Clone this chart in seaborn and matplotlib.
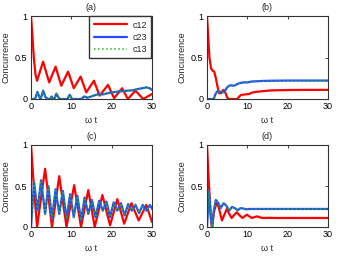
import matplotlib
matplotlib.use("Agg")
import matplotlib.pyplot as plt
import seaborn as sns

# ---------------- data ----------------
# Panel (a)
ta_12 = [0, 0.3, 0.7, 1.1, 1.5, 3.0, 4.5, 6.1, 7.5, 9.2, 10.6, 12.3, 13.7, 15.6, 17.0,
         19.1, 20.6, 22.6, 24.0, 25.9, 27.8, 30.0]
ca_12 = [1.0, 0.8, 0.5, 0.3, 0.22, 0.45, 0.2, 0.39, 0.16, 0.33, 0.13, 0.27, 0.08, 0.22, 0.04,
         0.17, 0.01, 0.13, 0.0, 0.1, 0.0, 0.06]
ta_23 = [0, 1.0, 1.6, 2.1, 2.4, 3.0, 3.6, 4.3, 4.7, 5.1, 5.5, 5.8, 6.3, 6.9, 7.3, 9.0, 9.6,
         10.2, 12.4, 13.2, 14.0, 14.6, 15.8, 16.8, 17.8, 19.0, 20.2, 21.6, 22.8, 24.0, 25.2,
         26.5, 27.6, 28.6, 29.4, 30.0]
ca_23 = [0, 0, 0.085, 0.02, 0.0, 0.1, 0.02, 0.0, 0.0, 0.03, 0.0, 0.0, 0.065, 0.01, 0.0, 0.0,
         0.05, 0.0, 0.0, 0.03, 0.015, 0.025, 0.045, 0.06, 0.055, 0.07, 0.08, 0.09, 0.095, 0.1,
         0.105, 0.12, 0.13, 0.14, 0.13, 0.11]
ta_13 = ta_23
ca_13 = ca_23

# Panel (b)
tb_12 = [0, 0.3, 0.6, 1.0, 1.4, 1.8, 2.2, 2.6, 3.0, 3.4, 3.8, 4.2, 4.6, 5.0, 5.3, 7.5, 8.0,
         8.5, 9.5, 10.5, 11.0, 12.0, 13.0, 15.0, 17.0, 20.0, 25.0, 30.0]
cb_12 = [1.0, 0.75, 0.5, 0.37, 0.34, 0.33, 0.25, 0.15, 0.07, 0.07, 0.1, 0.11, 0.07, 0.02, 0.0,
         0.0, 0.03, 0.05, 0.055, 0.06, 0.075, 0.085, 0.09, 0.1, 0.105, 0.108, 0.11, 0.11]
tb_23 = [0, 1.7, 2.0, 2.5, 3.0, 3.5, 4.0, 4.5, 5.0, 5.5, 6.0, 6.5, 7.0, 7.5, 8.0, 9.0, 10.0,
         11.0, 12.0, 14.0, 16.0, 20.0, 25.0, 30.0]
cb_23 = [0, 0, 0.05, 0.09, 0.09, 0.08, 0.08, 0.1, 0.14, 0.16, 0.165, 0.16, 0.165, 0.18, 0.19,
         0.2, 0.2, 0.21, 0.213, 0.218, 0.22, 0.222, 0.222, 0.222]
tb_13 = tb_23
cb_13 = cb_23

# Panel (c)
tc_12 = [0, 0.7, 1.5, 3.5, 5.2, 7.0, 8.8, 10.7, 12.4, 14.2, 15.8, 17.7, 19.6, 21.4, 23.1,
         24.9, 26.7, 28.6, 30.0]
cc_12 = [1.0, 0.5, 0.0, 0.71, 0.0, 0.62, 0.0, 0.51, 0.0, 0.45, 0.0, 0.39, 0.02, 0.34, 0.04,
         0.29, 0.08, 0.27, 0.06]
tc_23 = [0, 0.75, 1.6, 2.5, 3.5, 4.3, 5.2, 6.1, 7.0, 7.9, 8.8, 9.7, 10.6, 11.5, 12.4, 13.3,
         14.2, 15.1, 16.0, 16.9, 17.8, 18.7, 19.6, 20.5, 21.4, 22.3, 23.2, 24.1, 25.0, 25.9,
         26.8, 27.7, 28.6, 29.5, 30.0]
cc_23 = [0, 0.55, 0.2, 0.57, 0.16, 0.5, 0.1, 0.46, 0.16, 0.44, 0.1, 0.4, 0.12, 0.38, 0.08,
         0.36, 0.16, 0.33, 0.12, 0.32, 0.2, 0.31, 0.12, 0.3, 0.2, 0.29, 0.14, 0.28, 0.2, 0.27,
         0.17, 0.27, 0.2, 0.27, 0.22]
tc_13 = tc_23
cc_13 = cc_23

# Panel (d)
td_12 = [0, 0.3, 0.6, 0.9, 1.2, 1.8, 2.5, 3.0, 3.7, 4.3, 4.9, 5.5, 6.1, 6.8, 7.4, 8.1, 8.8,
         9.3, 9.9, 10.5, 11.1, 11.7, 12.4, 13.0, 13.7, 15.0, 17.0, 20.0, 25.0, 30.0]
cd_12 = [1.0, 0.7, 0.4, 0.15, 0.0, 0.2, 0.31, 0.22, 0.08, 0.15, 0.22, 0.16, 0.11, 0.15, 0.18,
         0.14, 0.11, 0.13, 0.15, 0.13, 0.11, 0.12, 0.13, 0.12, 0.11, 0.112, 0.11, 0.11, 0.11,
         0.11]
td_23 = [0, 0.5, 1.0, 1.3, 1.7, 2.2, 2.8, 3.4, 4.1, 4.8, 5.5, 6.2, 6.9, 7.6, 8.3, 9.0, 9.8,
         10.5, 12.0, 15.0, 20.0, 30.0]
cd_23 = [0, 0.44, 0.1, 0.0, 0.2, 0.33, 0.29, 0.23, 0.29, 0.26, 0.2, 0.245, 0.23, 0.205, 0.23,
         0.225, 0.215, 0.22, 0.22, 0.22, 0.22, 0.22]
td_13 = td_23
cd_13 = cd_23

panel_titles = ["(a)", "(b)", "(c)", "(d)"]
series_labels = ["c12", "c23", "c13"]
x_ticks = [0, 10, 20, 30]
y_ticks = [0, 0.5, 1]
y_tick_labels = ["0", "0.5", "1"]

# ---------------- style ----------------
sns.set_theme(style="white")
plt.rcParams["font.family"] = ["Liberation Sans", "DejaVu Sans"]
plt.rcParams["font.size"] = 6.5

RED = "#ff0000"
BLUE = "#1f4dff"
GREEN = "#22b022"
FS = 6.5

fig = plt.figure(figsize=(3.4, 2.59), dpi=100)
W, H = 340.0, 259.0
boxes = [(31, 16, 152, 99), (207, 16, 328, 99), (31, 145, 152, 227), (207, 145, 328, 227)]
panels = [
    (ta_12, ca_12, ta_23, ca_23, ta_13, ca_13),
    (tb_12, cb_12, tb_23, cb_23, tb_13, cb_13),
    (tc_12, cc_12, tc_23, cc_23, tc_13, cc_13),
    (td_12, cd_12, td_23, cd_23, td_13, cd_13),
]

for i, (box, data) in enumerate(zip(boxes, panels)):
    l, t, r, b = box
    ax = fig.add_axes([l / W, 1 - b / H, (r - l) / W, (b - t) / H])
    t12, v12, t23, v23, t13, v13 = data
    sns.lineplot(x=t12, y=v12, ax=ax, color=RED, linewidth=1.6, sort=False,
                 estimator=None, legend=False, label=series_labels[0])
    sns.lineplot(x=t23, y=v23, ax=ax, color=BLUE, linewidth=1.6, sort=False,
                 estimator=None, legend=False, label=series_labels[1])
    sns.lineplot(x=t13, y=v13, ax=ax, color=GREEN, linewidth=1.1, linestyle=":",
                 sort=False, estimator=None, legend=False, label=series_labels[2])
    ax.set_xlim(0, 30)
    ax.set_ylim(0, 1)
    ax.set_xticks(x_ticks)
    ax.set_yticks(y_ticks)
    ax.set_yticklabels(y_tick_labels)
    ax.tick_params(direction="in", length=2.2, width=0.6, top=True, right=True,
                   labelsize=FS, pad=2.5, colors="#222222", labelcolor="black")
    for sp in ax.spines.values():
        sp.set_color("#333333")
        sp.set_linewidth(0.8)
    ax.set_title(panel_titles[i], fontsize=FS, pad=4.5)
    ax.set_xlabel("ω t", fontsize=FS, labelpad=3.5)
    ax.set_ylabel("Concurrence", fontsize=FS, labelpad=3)
    if i == 0:
        leg = ax.legend(loc="upper right", bbox_to_anchor=(0.995, 1.0), borderaxespad=0,
                        fontsize=FS, handlelength=3.7, handletextpad=0.6,
                        labelspacing=0.35, borderpad=0.5, fancybox=False, framealpha=1)
        leg.get_frame().set_edgecolor("#333333")
        leg.get_frame().set_linewidth(1.0)

fig.savefig("out.png", dpi=100)
